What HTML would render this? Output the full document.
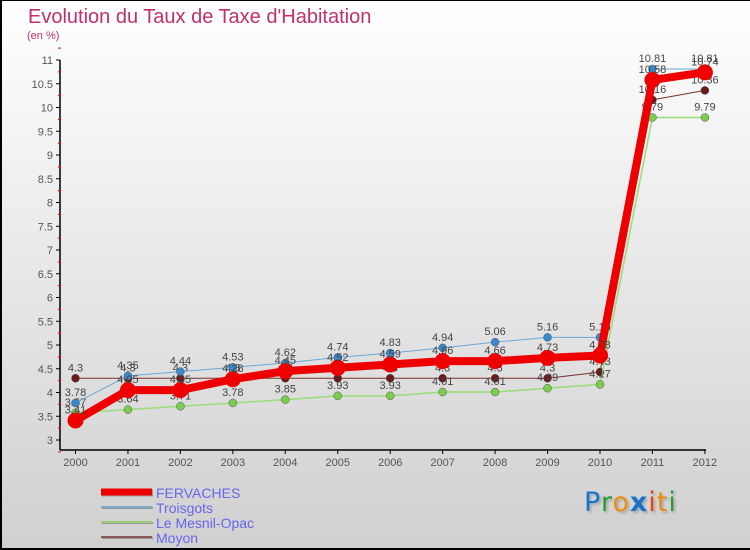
<!DOCTYPE html>
<html><head><meta charset="utf-8"><style>
body{margin:0}
#c{position:relative;width:750px;height:550px;box-sizing:border-box;border:1px solid #000;border-width:1px 0 2px 2px;background:linear-gradient(#fff,#d0d0d0);font-family:"Liberation Sans",sans-serif;overflow:hidden}
.t{position:absolute;color:#c0306a}
</style></head><body>
<div id="c">
<div class="t" style="left:26px;top:5px;font-size:20px">Evolution du Taux de Taxe d'Habitation</div>
<div class="t" style="left:25px;top:29px;font-size:11px">(en %)</div>
<svg id="s" width="750" height="550" style="position:absolute;left:-2px;top:-1px"></svg>
<div style="position:absolute;left:582px;top:486px;font-size:27px;font-family:'DejaVu Sans',sans-serif;letter-spacing:1px;text-shadow:2px 2px 2px #aaa"><span style="color:#1a73c8">P</span><span style="color:#2a9a3a">r</span><span style="color:#f08a10">o</span><span style="color:#1a73c8;font-weight:bold">x</span><span style="color:#e84010">i</span><span style="color:#f08a10">t</span><span style="color:#2a9a3a">i</span></div>
</div>
<script>
const years=[2000,2001,2002,2003,2004,2005,2006,2007,2008,2009,2010,2011,2012];
const fervaches=[3.41,4.05,4.05,4.28,4.45,4.52,4.59,4.66,4.66,4.73,4.78,10.58,10.74];
const troisgots=[3.78,4.35,4.44,4.53,4.62,4.74,4.83,4.94,5.06,5.16,5.16,10.81,10.81];
const mesnil=[3.57,3.64,3.71,3.78,3.85,3.93,3.93,4.01,4.01,4.09,4.17,9.79,9.79];
const moyon=[4.3,4.3,4.3,4.3,4.3,4.3,4.3,4.3,4.3,4.3,4.43,10.16,10.36];
const yTicks=[3,3.5,4,4.5,5,5.5,6,6.5,7,7.5,8,8.5,9,9.5,10,10.5,11];
const names=["FERVACHES","Troisgots","Le Mesnil-Opac","Moyon"];
const NS="http://www.w3.org/2000/svg";
const s=document.getElementById('s');
const x=i=>75.5+i*52.45, y=v=>440-(v-3)*47.5;
function el(t,a,p){const e=document.createElementNS(NS,t);for(const k in a)e.setAttribute(k,a[k]);(p||s).appendChild(e);return e;}
let e;
e=el('line',{x1:60,y1:60,x2:60,y2:450,stroke:'#000','stroke-width':1.5});


e=el('line',{x1:60,y1:450,x2:706,y2:450,stroke:'#000','stroke-width':1.5});


yTicks.forEach(v=>{
  el('line',{x1:56,x2:60,y1:y(v),y2:y(v),stroke:'#000'});
  el('line',{x1:58,x2:61,y1:y(v)-11.9,y2:y(v)-11.9,stroke:'red'});
  if(v<11)el('line',{x1:58,x2:61,y1:y(v)+11.9,y2:y(v)+11.9,stroke:'red'});
  e=el('text',{x:53,y:y(v)+4,'text-anchor':'end','font-size':11,fill:'#555','font-family':'Liberation Sans'});e.textContent=v;
  
  
});
years.forEach((yr,i)=>{
  el('line',{x1:x(i),x2:x(i),y1:450,y2:454,stroke:'#000'});
  e=el('text',{x:x(i),y:466,'text-anchor':'middle','font-size':11,fill:'#555','font-family':'Liberation Sans'});e.textContent=yr;
  
  
});
const series=[[moyon,'#6b1a1a','#7a3030',1,4],[mesnil,'#7ccc50','#99dd77',1.5,4],[troisgots,'#3a88cc','#6aa8d8',1,4],[fervaches,'#ee0000','#ee0000',8,8]];
const order=[3,2,1,0];
series.forEach((sr,k)=>{
  const [d,dot,col,w,r]=sr;
  e=el('polyline',{points:d.map((v,i)=>x(i)+','+y(v)).join(' '),fill:'none',stroke:col,'stroke-width':w,'stroke-linejoin':'round'});
  
  
  d.forEach((v,i)=>{
    e=el('circle',{cx:x(i),cy:y(v),r:r,fill:dot,stroke:w>2?'none':'#555','stroke-width':0.5});
    
    
    e=el('text',{x:x(i),y:y(v)-7,'text-anchor':'middle','font-size':11,fill:'#444','font-family':'Liberation Sans'});e.textContent=v;
    
    
  });
});
const lc=['#ee0000','#7aaacc','#99cc77','#8a5a5a'];
names.forEach((n,i)=>{
  const yy=492+i*15;
  el('line',{x1:102,x2:153,y1:yy+1,y2:yy+1,stroke:'#999','stroke-width':i?2:7});
  e=el('line',{x1:101,x2:152,y1:yy,y2:yy,stroke:lc[i],'stroke-width':i?2:7});
  
  
  e=el('text',{x:156,y:yy+6,'font-size':14,fill:'#6666ee','font-family':'Liberation Sans'});e.textContent=n;
  
  
});
</script>
</body></html>
